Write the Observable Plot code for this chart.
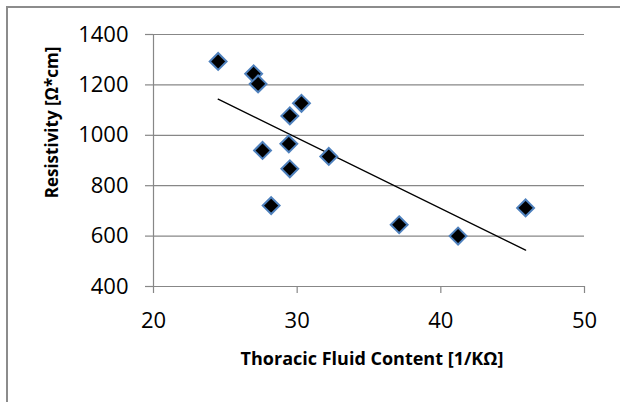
<!DOCTYPE html>
<html><head><meta charset="utf-8">
<script src="https://cdn.jsdelivr.net/npm/d3@7"></script>
<script src="https://cdn.jsdelivr.net/npm/@observablehq/plot@0.6"></script>
<style>
html,body{margin:0;padding:0;background:#fff;}
#wrap{position:relative;width:620px;height:402px;overflow:hidden;background:#fff;}
#border{position:absolute;left:6px;top:6px;width:800px;height:600px;border-left:2px solid #8c8c8c;border-top:2px solid #8c8c8c;}
#chart{position:absolute;left:0;top:0;}
</style></head><body>
<div id="wrap"><div id="border"></div><div id="chart"></div></div>
<script>
const fluidContent = [24.5, 26.97, 27.28, 30.3, 29.49, 29.42, 27.59, 32.2, 29.49, 28.19, 37.1, 41.2, 45.9];
const resistivity = [1293, 1244, 1204, 1127, 1077, 966, 940, 916, 867, 721, 645, 600, 712];
const xTicks = [20, 30, 40, 50];
const yTicks = [400, 600, 800, 1000, 1200, 1400];
const xTitle = "Thoracic Fluid Content [1/KΩ]";
const yTitle = "Resistivity [Ω*cm]";

const data = fluidContent.map((x, i) => ({x, y: resistivity[i]}));
const gray = "#878787";

const plot = Plot.plot({
  width: 620, height: 402,
  marginLeft: 153, marginRight: 36, marginTop: 34, marginBottom: 116,
  style: {fontFamily: "'Open Sans', sans-serif", background: "transparent", color: "black", overflow: "visible"},
  x: {domain: [20, 50]},
  y: {domain: [400, 1400]},
  marks: [
    Plot.gridY(yTicks, {stroke: gray, strokeOpacity: 1, strokeWidth: 1.2}),
    Plot.ruleX([20], {stroke: gray, strokeWidth: 1.2}),
    Plot.ruleY([400], {stroke: gray, strokeWidth: 1.2}),
    Plot.axisY(yTicks, {tickSize: 8, tickPadding: 17, stroke: gray, strokeWidth: 1.2, fontSize: 22, fill: "black", label: null, tickFormat: d => String(d)}),
    Plot.axisX(xTicks, {tickSize: 7, tickPadding: 19, stroke: gray, strokeWidth: 1.2, fontSize: 22, fill: "black", label: null, tickFormat: d => String(d)}),
    Plot.linearRegressionY(data, {x: "x", y: "y", stroke: "black", strokeWidth: 1.3, ci: 0}),
    Plot.dot(data, {x: "x", y: "y", symbol: "diamond2", r: 7.6, fill: "black", stroke: "#4F81BD", strokeWidth: 2}),
    Plot.text([xTitle], {text: d => d, frameAnchor: "bottom", textAnchor: "middle", lineAnchor: "bottom", dy: 78, dx: 3, fontWeight: "bold", fontSize: 18, fill: "black"}),
    Plot.text([yTitle], {text: d => d, frameAnchor: "left", textAnchor: "middle", rotate: -90, lineAnchor: "bottom", dx: -96, dy: -38, fontWeight: "bold", fontSize: 17, fill: "black"})
  ]
});
document.getElementById("chart").appendChild(plot);
</script>
</body></html>
